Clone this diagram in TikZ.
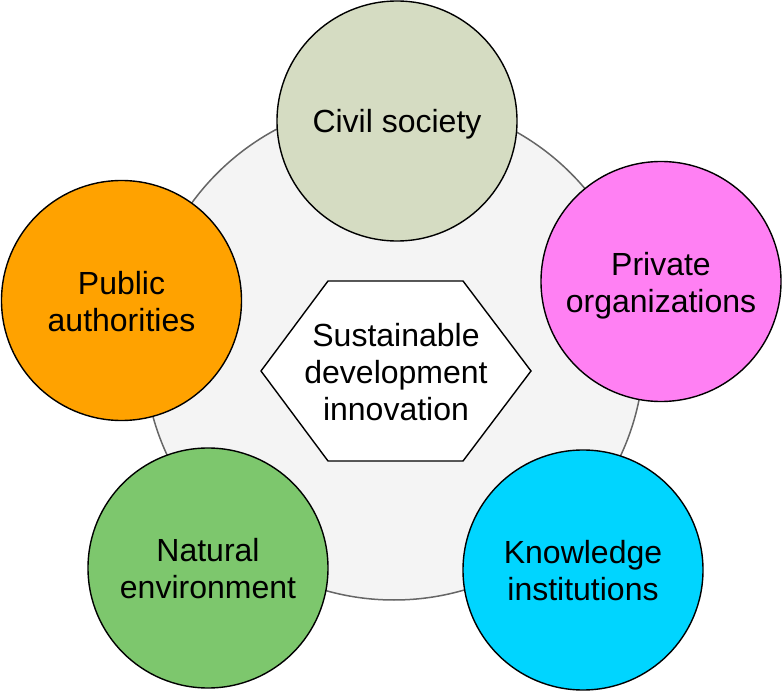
\documentclass[tikz,border=0pt]{standalone}
\usepackage{fontspec}
\setmainfont{Liberation Sans}
\definecolor{ringfill}{HTML}{F4F4F4}
\definecolor{ringdraw}{HTML}{666666}
\definecolor{civilc}{HTML}{D5DCC2}
\definecolor{privatec}{HTML}{FF80F3}
\definecolor{publicc}{HTML}{FFA200}
\definecolor{naturalc}{HTML}{7DC76D}
\definecolor{knowc}{HTML}{00D5FF}
\newcommand\labtopstrut{\rule{0pt}{29.6pt}}
\newcommand\labbotstrut{\rule[-7.4pt]{0pt}{7.4pt}}
\begin{document}
\begin{tikzpicture}[x=1pt,y=-1pt,
  labeltext/.style={align=center, inner sep=0pt, font=\fontsize{32}{37}\selectfont,
    execute at begin node=\labtopstrut, execute at end node=\labbotstrut},
  member/.style={circle, draw=black, line width=1.4pt, minimum size=240pt, inner sep=0pt},
  ring/.style={circle, draw=ringdraw, fill=ringfill, line width=1.5pt, minimum size=500pt, inner sep=0pt},
  hexshape/.style={draw=black, fill=white, line width=1.4pt, line join=miter}]
\useasboundingbox (0,0) rectangle (782,692);
\node[ring] (ring) at (394,350) {};
\coordinate (hc) at (396,371);
\draw[hexshape] (hc) ++(-135,0) -- ++(67,-90) -- ++(135,0) -- ++(68,90) -- ++(-68,90) -- ++(-135,0) -- cycle;
\node[labeltext] (hex) at ([yshift=-5pt]hc) {Sustainable\\development\\innovation};
\node[member, fill=civilc] (civil) at (397,121) {};
\node[member, fill=privatec] (private) at (661,281.5) {};
\node[member, fill=publicc] (public) at (121.5,300.5) {};
\node[member, fill=naturalc] (natural) at (208,568) {};
\node[member, fill=knowc] (know) at (583,570) {};
\node[labeltext] (civilt) at (civil.center) {Civil society};
\node[labeltext] (privatet) at ([yshift=-4.5pt]private.center) {Private\\organizations};
\node[labeltext] (publict) at ([yshift=-4.5pt]public.center) {Public\\authorities};
\node[labeltext] (naturalt) at ([yshift=-4.5pt]natural.center) {Natural\\environment};
\node[labeltext] (knowt) at ([yshift=-4.5pt]know.center) {Knowledge\\institutions};
\end{tikzpicture}
\end{document}
